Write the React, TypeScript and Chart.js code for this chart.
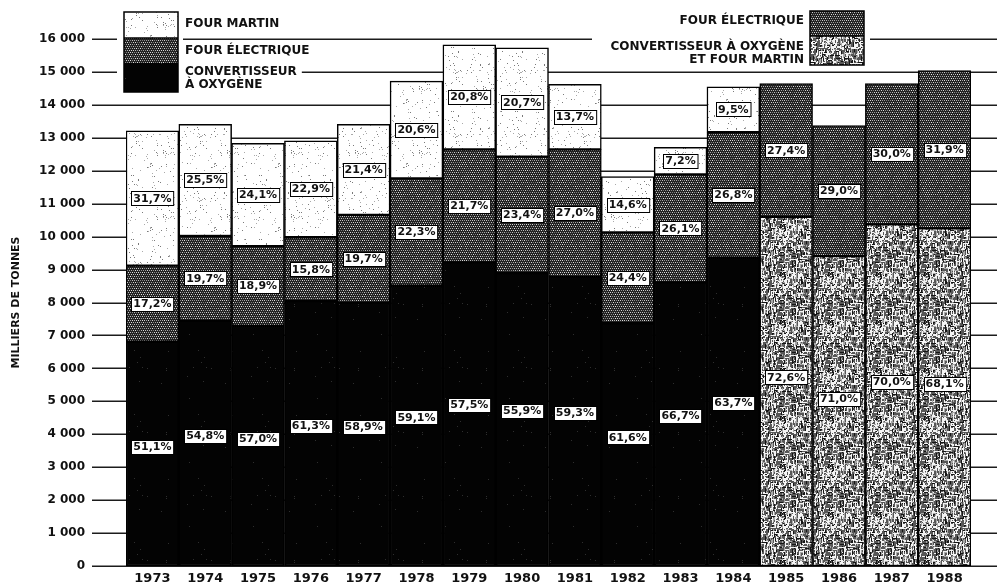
import React, { useEffect, useRef } from 'react';
import { Chart, registerables } from 'chart.js';

Chart.register(...registerables);

const years = ['1973', '1974', '1975', '1976', '1977', '1978', '1979', '1980', '1981', '1982', '1983', '1984', '1985', '1986', '1987', '1988'];

// thousands of tonnes
const oxygen = [6810, 7440, 7290, 8040, 7990, 8510, 9220, 8890, 8780, 7370, 8610, 9360, null, null, null, null];
const oxygenAndMartin = [null, null, null, null, null, null, null, null, null, null, null, null, 10600, 9410, 10370, 10250];
const electric = [2310, 2580, 2420, 1940, 2670, 3260, 3430, 3540, 3870, 2760, 3280, 3810, 4050, 3960, 4280, 4790];
const martin = [4090, 3390, 3120, 2930, 2750, 2950, 3170, 3300, 1970, 1690, 820, 1380, null, null, null, null];

const oxygenPct = ['51,1%', '54,8%', '57,0%', '61,3%', '58,9%', '59,1%', '57,5%', '55,9%', '59,3%', '61,6%', '66,7%', '63,7%', null, null, null, null];
const oxygenAndMartinPct = [null, null, null, null, null, null, null, null, null, null, null, null, '72,6%', '71,0%', '70,0%', '68,1%'];
const electricPct = ['17,2%', '19,7%', '18,9%', '15,8%', '19,7%', '22,3%', '21,7%', '23,4%', '27,0%', '24,4%', '26,1%', '26,8%', '27,4%', '29,0%', '30,0%', '31,9%'];
const martinPct = ['31,7%', '25,5%', '24,1%', '22,9%', '21,4%', '20,6%', '20,8%', '20,7%', '13,7%', '14,6%', '7,2%', '9,5%', null, null, null, null];

const yTickLabels = ['0', '1 000', '2 000', '3 000', '4 000', '5 000', '6 000', '7 000', '8 000', '9 000', '10 000', '11 000', '12 000', '13 000', '14 000', '15 000', '16 000'];

const FONT = "'DejaVu Sans', 'Liberation Sans', Arial, sans-serif";
const INK = '#111';

function seeded(seed: number) {
  let s = seed | 0;
  return () => {
    s = (s + 0x6d2b79f5) | 0;
    let t = Math.imul(s ^ (s >>> 15), 1 | s);
    t = (t + Math.imul(t ^ (t >>> 7), 61 | t)) ^ t;
    return ((t ^ (t >>> 14)) >>> 0) / 4294967296;
  };
}

function makePattern(ctx: CanvasRenderingContext2D, size: number, base: string, draw: (g: CanvasRenderingContext2D, r: () => number) => void, seed: number) {
  const c = document.createElement('canvas');
  c.width = size;
  c.height = size;
  const g = c.getContext('2d') as CanvasRenderingContext2D;
  g.fillStyle = base;
  g.fillRect(0, 0, size, size);
  draw(g, seeded(seed));
  return ctx.createPattern(c, 'repeat') as CanvasPattern;
}

function buildPatterns(ctx: CanvasRenderingContext2D) {
  const martinP = makePattern(ctx, 64, '#ffffff', (g, r) => {
    for (let i = 0; i < 64 * 64 * 0.035; i++) {
      g.fillStyle = r() < 0.5 ? '#7a7a7a' : '#aaaaaa';
      g.fillRect(Math.floor(r() * 64), Math.floor(r() * 64), 1, 1);
    }
  }, 11);
  const electricP = makePattern(ctx, 48, '#222222', (g, r) => {
    for (let y = 0; y < 48; y += 2) {
      for (let x = (y / 2) % 2; x < 48; x += 2) {
        const v = r();
        const lv = Math.floor(120 + v * 110);
        g.fillStyle = `rgb(${lv},${lv},${lv})`;
        g.fillRect(x, y, 1, 1);
      }
    }
  }, 23);
  const oxygenP = makePattern(ctx, 64, '#030303', (g, r) => {
    for (let i = 0; i < 64 * 64 * 0.003; i++) {
      g.fillStyle = '#2e2e2e';
      g.fillRect(Math.floor(r() * 64), Math.floor(r() * 64), 1, 1);
    }
  }, 37);
  const comboP = makePattern(ctx, 48, '#575757', (g, r) => {
    for (let i = 0; i < 640; i++) {
      const x = Math.floor(r() * 48);
      const y = Math.floor(r() * 48);
      const len = 2 + Math.floor(r() * 4);
      const vert = r() < 0.62;
      const t = r();
      g.fillStyle = t < 0.55 ? '#f4f4f4' : t < 0.8 ? '#a8a8a8' : '#151515';
      if (vert) g.fillRect(x, y, 1, len);
      else g.fillRect(x, y, len, 1);
    }
  }, 53);
  return { martinP, electricP, oxygenP, comboP };
}

export default function App() {
  const ref = useRef<HTMLCanvasElement | null>(null);

  useEffect(() => {
    const canvas = ref.current;
    if (!canvas) return;
    const ctx = canvas.getContext('2d') as CanvasRenderingContext2D;
    const { martinP, electricP, oxygenP, comboP } = buildPatterns(ctx);

    const pctSets = [oxygenPct, oxygenAndMartinPct, electricPct, martinPct];
    const labelFrac = [0.53, 0.54, 0.5, 0.5];

    const gridPlugin = {
      id: 'fullGrid',
      beforeDatasetsDraw(chart: any) {
        const c = chart.ctx;
        const y = chart.scales.y;
        c.save();
        c.strokeStyle = '#1c1c1c';
        c.lineWidth = 1.5;
        for (let i = 0; i < yTickLabels.length; i++) {
          const py = Math.round(y.getPixelForValue(i * 1000)) + 0.25;
          c.beginPath();
          c.moveTo(92, py);
          c.lineTo(chart.width, py);
          c.stroke();
        }
        c.restore();
      },
    };

    const labelPlugin = {
      id: 'pctLabels',
      afterDatasetsDraw(chart: any) {
        const c = chart.ctx;
        c.save();
        c.font = `bold 11px ${FONT}`;
        c.textAlign = 'center';
        c.textBaseline = 'middle';
        pctSets.forEach((labels, di) => {
          const meta = chart.getDatasetMeta(di);
          meta.data.forEach((el: any, i: number) => {
            const txt = labels[i];
            if (!txt) return;
            const { x, y, base } = el.getProps(['x', 'y', 'base'], true);
            const cy = base + (y - base) * labelFrac[di];
            const w = c.measureText(txt).width;
            const bx = Math.round(x - w / 2 - 2) + 0.5;
            const by = Math.round(cy - 7) + 0.5;
            c.fillStyle = '#ffffff';
            c.fillRect(bx, by, w + 4, 14);
            c.strokeStyle = '#000';
            c.lineWidth = 1;
            c.strokeRect(bx, by, w + 4, 14);
            c.fillStyle = INK;
            c.fillText(txt, x, cy + 0.5);
          });
        });
        c.restore();
      },
    };

    const legendPlugin = {
      id: 'customLegend',
      afterDraw(chart: any) {
        const c = chart.ctx;
        c.save();
        c.font = `bold 12px ${FONT}`;
        c.textBaseline = 'middle';
        // left legend
        c.fillStyle = '#fff';
        c.fillRect(117, 8, 66, 88);
        const lx = 124, lw = 54;
        c.fillStyle = martinP; c.fillRect(lx, 12, lw, 26);
        c.fillStyle = electricP; c.fillRect(lx, 38, lw, 25);
        c.fillStyle = oxygenP; c.fillRect(lx, 63, lw, 29);
        c.strokeStyle = '#000'; c.lineWidth = 1.5;
        c.strokeRect(lx, 12, lw, 80);
        c.beginPath(); c.moveTo(lx, 38); c.lineTo(lx + lw, 38); c.stroke();
        const leftTexts: [string, number][] = [['FOUR MARTIN', 24], ['FOUR ÉLECTRIQUE', 51], ['CONVERTISSEUR', 72], ['À OXYGÈNE', 85]];
        c.textAlign = 'left';
        leftTexts.forEach(([t, ty]) => {
          const w = c.measureText(t).width;
          c.fillStyle = '#fff';
          c.fillRect(182, ty - 6, w + 8, 12);
          c.fillStyle = INK;
          c.fillText(t, 185, ty);
        });
        // right legend
        c.fillStyle = '#fff';
        c.fillRect(592, 6, 278, 62);
        const rx = 810, rw = 54;
        c.fillStyle = electricP; c.fillRect(rx, 11, rw, 25);
        c.fillStyle = comboP; c.fillRect(rx, 36, rw, 29);
        c.strokeStyle = '#000'; c.lineWidth = 1.5;
        c.strokeRect(rx, 11, rw, 54);
        c.beginPath(); c.moveTo(rx, 36); c.lineTo(rx + rw, 36); c.stroke();
        c.textAlign = 'right';
        c.fillStyle = INK;
        c.fillText('FOUR ÉLECTRIQUE', 804, 21);
        c.fillText('CONVERTISSEUR À OXYGÈNE', 804, 47);
        c.fillText('ET FOUR MARTIN', 804, 60);
        c.restore();
      },
    };

    const common = { barPercentage: 1, categoryPercentage: 1, borderColor: '#000', borderWidth: 1.5, borderSkipped: false, stack: 's' };

    const chart = new Chart(ctx, {
      type: 'bar',
      data: {
        labels: years,
        datasets: [
          { label: 'Convertisseur à oxygène', data: oxygen, backgroundColor: oxygenP, ...common },
          { label: 'Convertisseur à oxygène et four Martin', data: oxygenAndMartin, backgroundColor: comboP, ...common },
          { label: 'Four électrique', data: electric, backgroundColor: electricP, ...common },
          { label: 'Four Martin', data: martin, backgroundColor: martinP, ...common },
        ] as any,
      },
      options: {
        responsive: false,
        animation: false,
        devicePixelRatio: 1,
        layout: { padding: { top: 39, right: 26, bottom: 0, left: 0 } },
        plugins: { legend: { display: false }, tooltip: { enabled: false } },
        scales: {
          x: {
            stacked: true,
            grid: { display: false, drawTicks: false },
            border: { display: false },
            ticks: { font: { family: FONT, size: 13, weight: 'bold' }, color: INK, padding: 5, maxRotation: 0, autoSkip: false },
            afterFit: (s: any) => { s.height = 20; },
          },
          y: {
            stacked: true,
            min: 0,
            max: 16000,
            grid: { display: false, drawTicks: true, tickLength: 41 },
            border: { display: false },
            ticks: {
              stepSize: 1000,
              font: { family: FONT, size: 12, weight: 'bold' },
              color: INK,
              padding: 0,
              callback: (_v: any, i: number) => yTickLabels[i],
            },
            title: {
              display: true,
              text: 'MILLIERS DE TONNES',
              font: { family: FONT, size: 11, weight: 'bold' },
              color: INK,
              padding: { top: 10, bottom: 0 },
            },
            afterFit: (s: any) => { s.width = 126; },
          },
        },
      } as any,
      plugins: [gridPlugin, labelPlugin, legendPlugin],
    });

    return () => chart.destroy();
  }, []);

  return (
    <div style={{ position: 'fixed', left: 0, top: 0, width: 997, height: 586, background: '#fff' }}>
      <canvas ref={ref} width={997} height={586} style={{ display: 'block', width: 997, height: 586 }} />
    </div>
  );
}
